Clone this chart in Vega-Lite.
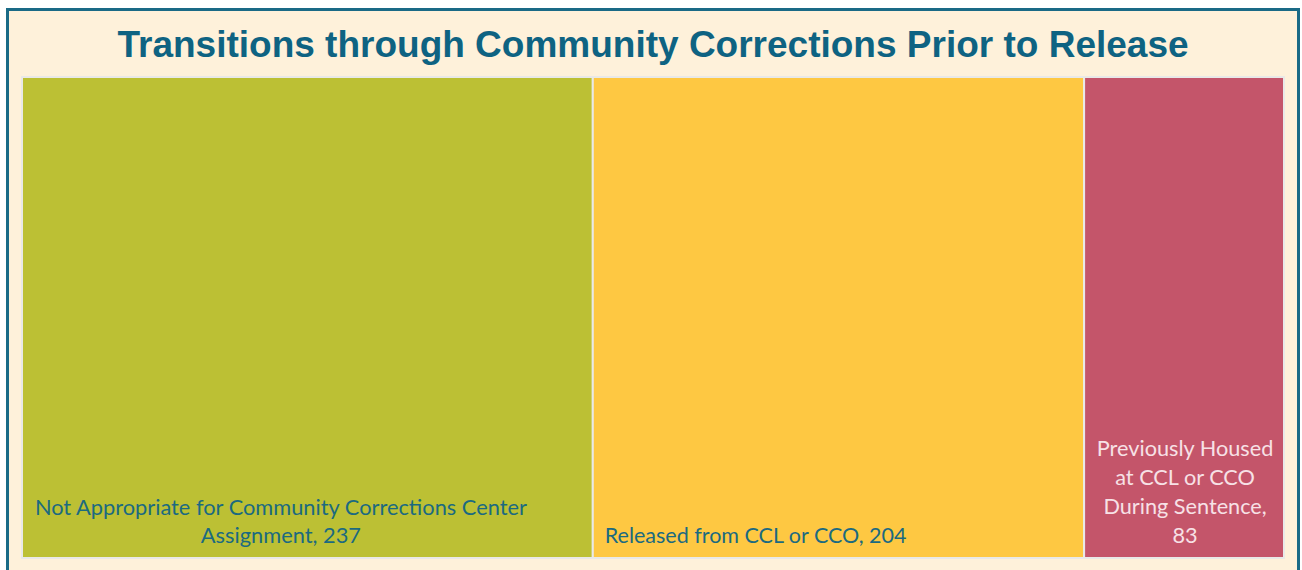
{
  "$schema": "https://vega.github.io/schema/vega-lite/v6.json",
  "width": 1291,
  "height": 560.5,
  "autosize": "none",
  "padding": {"left": 7.5, "top": 9.5, "right": 3.5, "bottom": 0},
  "background": "#ffffff",
  "title": {
    "text": "Transitions through Community Corrections Prior to Release",
    "font": "Liberation Sans",
    "fontSize": 37,
    "fontWeight": "bold",
    "color": "#0e6382",
    "anchor": "middle",
    "baseline": "alphabetic",
    "offset": -48.5,
    "dy": 36
  },
  "config": {
    "view": {"fill": "#fef1da", "stroke": "#1a6a86", "strokeWidth": 3, "strokeDash": [1851.5, 1291]}
  },
  "data": {
    "values": [
      {"category": "Not Appropriate for Community Corrections Center Assignment", "count": 237, "label": "Not Appropriate for Community Corrections Center\nAssignment, 237"},
      {"category": "Released from CCL or CCO", "count": 204, "label": "Released from CCL or CCO, 204"},
      {"category": "Previously Housed at CCL or CCO During Sentence", "count": 83, "label": "Previously Housed\nat CCL or CCO\nDuring Sentence,\n83"}
    ]
  },
  "transform": [
    {"stack": "count", "groupby": [], "sort": [{"field": "count", "order": "descending"}], "as": ["x0", "x1"]},
    {"calculate": "(datum.x0 + datum.x1) / 2", "as": "xmid"}
  ],
  "layer": [
    {
      "mark": {"type": "rect", "stroke": "#e9e9e7", "strokeWidth": 2},
      "encoding": {
        "x": {"field": "x0", "type": "quantitative", "scale": {"domain": [-6.02, 530.02], "nice": false, "zero": false}, "axis": null},
        "x2": {"field": "x1"},
        "y": {"datum": 0, "type": "quantitative", "scale": {"domain": [-0.02495, 1.14033], "nice": false, "zero": false}, "axis": null},
        "y2": {"datum": 1},
        "color": {
          "field": "category",
          "type": "nominal",
          "scale": {
            "domain": ["Not Appropriate for Community Corrections Center Assignment", "Released from CCL or CCO", "Previously Housed at CCL or CCO During Sentence"],
            "range": ["#bcc034", "#fec842", "#c4556a"]
          },
          "legend": null
        }
      }
    },
    {
      "transform": [{"filter": "datum.count == 237"}],
      "mark": {"type": "text", "font": "Lato", "fontSize": 21.8, "color": "#1b6a80", "align": "center", "baseline": "alphabetic", "dx": -26.5, "dy": -43, "lineBreak": "\n", "lineHeight": 28.5},
      "encoding": {
        "x": {"field": "xmid", "type": "quantitative"},
        "y": {"datum": 0, "type": "quantitative"},
        "text": {"field": "label"}
      }
    },
    {
      "transform": [{"filter": "datum.count == 204"}],
      "mark": {"type": "text", "font": "Lato", "fontSize": 21.5, "color": "#1b6a80", "align": "left", "baseline": "alphabetic", "dx": 12, "dy": -15},
      "encoding": {
        "x": {"field": "x0", "type": "quantitative"},
        "y": {"datum": 0, "type": "quantitative"},
        "text": {"field": "label"}
      }
    },
    {
      "transform": [{"filter": "datum.count == 83"}],
      "mark": {"type": "text", "font": "Lato", "fontSize": 21.7, "color": "#f7e1e6", "align": "center", "baseline": "alphabetic", "dx": 1, "dy": -102, "lineBreak": "\n", "lineHeight": 29},
      "encoding": {
        "x": {"field": "xmid", "type": "quantitative"},
        "y": {"datum": 0, "type": "quantitative"},
        "text": {"field": "label"}
      }
    }
  ]
}
